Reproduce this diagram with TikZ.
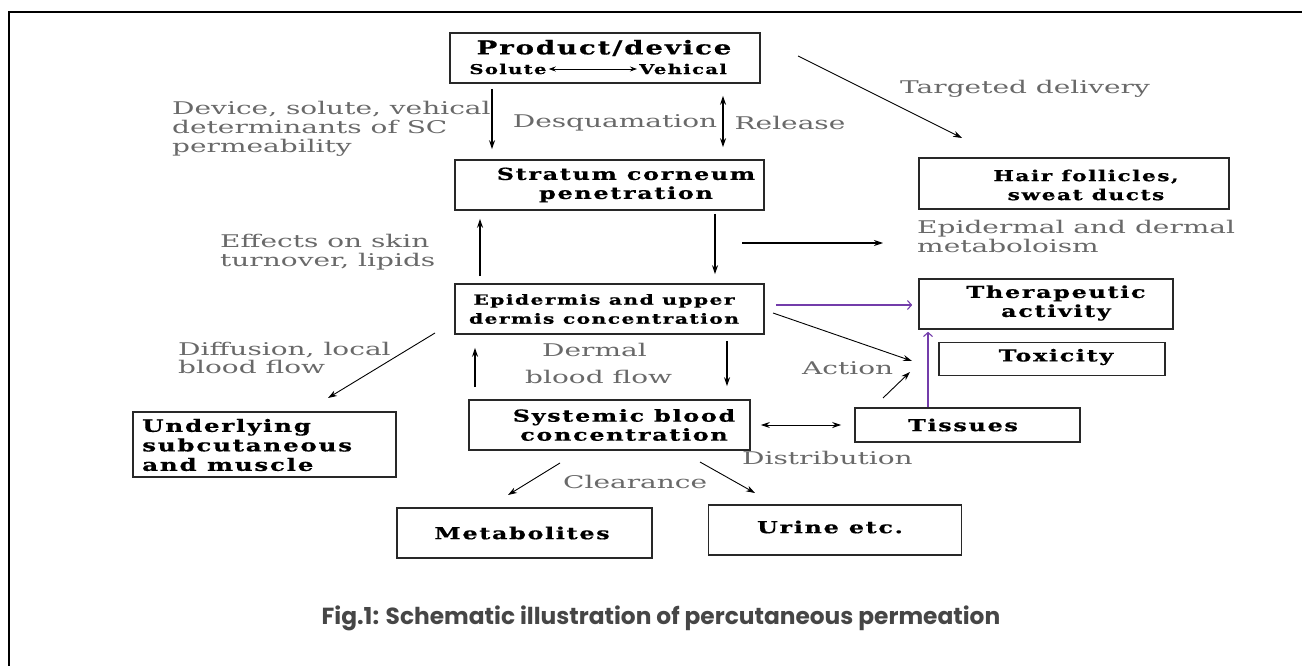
\documentclass[tikz,border=0pt]{standalone}
\usepackage{fontspec}
\usetikzlibrary{arrows.meta}
\setmainfont{DejaVu Serif}
\newfontfamily\labfont[FakeStretch=1.6]{DejaVu Serif}
\newfontfamily\boxfont[FakeStretch=1.45,LetterSpace=10,FakeBold=0.6]{DejaVu Serif Bold}
\newfontfamily\capfont{Poppins}
\definecolor{labgray}{RGB}{105,105,105}
\definecolor{boxline}{RGB}{40,40,40}
\definecolor{pur}{RGB}{115,60,170}
\definecolor{capgray}{RGB}{70,70,70}
\tikzset{
  box/.style={draw=boxline, line width=1.6pt, inner sep=0pt},
  bt/.style={font=\boxfont\fontsize{16.5}{19}\selectfont, align=center, inner sep=0pt},
  btl/.style={font=\boxfont\fontsize{17}{19.5}\selectfont, align=left, inner sep=0pt},
  lab/.style={font=\labfont\fontsize{17.5}{18.8}\selectfont, text=labgray, align=left, inner sep=0pt},
  arr/.style={-{Stealth[length=9pt,width=6pt]}, line width=1.1pt},
  darr/.style={{Stealth[length=9pt,width=6pt]}-{Stealth[length=9pt,width=6pt]}, line width=1.1pt},
  parr/.style={-{Straight Barb[length=4pt,width=9pt]}, draw=pur, line width=1.1pt},
}
\begin{document}
\begin{tikzpicture}[x=1pt,y=-1pt]
\useasboundingbox (0,0) rectangle (1302,666);
% frame
\draw[line width=2.4pt] (9,666) -- (9,12) -- (1302,12);

% boxes
\node[box, minimum width=310pt, minimum height=50pt] (pd) at (605,58) {};
\node[box, minimum width=309pt, minimum height=50pt] (sc) at (609.5,185) {};
\node[box, minimum width=310pt, minimum height=51pt] (hf) at (1074,183.5) {};
\node[box, minimum width=309pt, minimum height=50pt] (ep) at (609.5,309) {};
\node[box, minimum width=254pt, minimum height=50pt] (ta) at (1046,304) {};
\node[box, minimum width=226pt, minimum height=33pt] (tox) at (1052,359) {};
\node[box, minimum width=263pt, minimum height=65pt] (ul) at (264.5,444.5) {};
\node[box, minimum width=281pt, minimum height=50pt] (sb) at (609.5,425) {};
\node[box, minimum width=225pt, minimum height=34pt] (ti) at (967.5,425) {};
\node[box, minimum width=255pt, minimum height=50pt] (me) at (524.5,533) {};
\node[box, minimum width=253pt, minimum height=50pt] (ur) at (835,530) {};

% box texts
\node[bt, font=\boxfont\fontsize{19}{22}\selectfont] (pdt) at (604,48) {Product/device};
\node[bt, font=\boxfont\fontsize{13.5}{14}\selectfont] (sol) at (508,69) {Solute};
\node[bt, font=\boxfont\fontsize{13.5}{14}\selectfont] (veh) at (683,69) {Vehical};
\draw[{Stealth[length=7pt,width=5pt]}-{Stealth[length=7pt,width=5pt]}, line width=0.8pt, shorten <=2pt, shorten >=2pt] (sol) -- (veh);
\node[bt] (sct) at (626,185) {Stratum corneum\\penetration};
\node[bt, font=\boxfont\fontsize{15}{19}\selectfont] (hft) at (1086,185) {Hair follicles,\\sweat ducts};
\node[bt, font=\boxfont\fontsize{14}{19}\selectfont] (ept) at (604,309) {Epidermis and upper\\dermis concentration};
\node[bt] (tat) at (1056,303) {Therapeutic\\activity};
\node[bt] (toxt) at (1056,357) {Toxicity};
\node[btl, anchor=west] (ult) at (142,445) {Underlying\\subcutaneous\\and muscle};
\node[bt] (sbt) at (624,425) {Systemic blood\\concentration};
\node[bt] (tit) at (963,425) {Tissues};
\node[bt] (met) at (522,533) {Metabolites};
\node[bt] (urt) at (830,527) {Urine etc.};

% labels
\node[lab, anchor=west] (l1) at (172,128.5) {Device, solute, vehical\\determinants of SC\\permeability};
\node[lab] (l2) at (615,123) {Desquamation};
\node[lab] (l3) at (790,123) {Release};
\node[lab, anchor=west] (l4) at (900,89) {Targeted delivery};
\node[lab, anchor=west] (l5) at (220,252) {Effects on skin\\turnover, lipids};
\node[lab, anchor=west] (l6) at (917,236.5) {Epidermal and dermal\\metaboloism};
\node[lab, anchor=west] (l7) at (178,358) {Diffusion, local\\blood flow};
\node[lab, anchor=west] (l8) at (542,350) {Dermal};
\node[lab, anchor=west] (l9) at (525,377) {blood flow};
\node[lab, anchor=west] (l10) at (802,368) {Action};
\node[lab, anchor=west] (l11) at (742,458) {Distribution};
\node[lab, anchor=west] (l12) at (563,482) {Clearance};

% caption
\node[font=\capfont\bfseries\fontsize{23.3}{28}\selectfont, text=capgray, inner sep=0pt] (cap) at (661,618) {Fig.1: Schematic illustration of percutaneous permeation};

% connectors
\coordinate (x1) at (492,0);
\coordinate (x2) at (723,0);
\coordinate (x3) at (480,0);
\coordinate (x4) at (715,0);
\coordinate (x5) at (727,0);
\coordinate (x6) at (475,0);
\coordinate (x7) at (928,0);
\coordinate (y1) at (0,305);
\coordinate (y2) at (0,425);
\coordinate (tg1) at (798,56);
\coordinate (tg2) at (962,138);
\coordinate (m1) at (742,243);
\coordinate (m2) at (883,243);
\coordinate (e1) at (773,313);
\coordinate (e2) at (912,361);
\coordinate (t1) at (883,398);
\coordinate (t2) at (910,372);
\coordinate (d1) at (435,333);
\coordinate (d2) at (328,398);
\coordinate (c1) at (560,463);
\coordinate (c2) at (508,495);
\coordinate (c3) at (700,462);
\coordinate (c4) at (755,493);

\draw[arr, shorten <=5pt, shorten >=10pt] (pd.south -| x1) -- (sc.north -| x1);
\draw[darr, shorten <=12pt, shorten >=12pt] (pd.south -| x2) -- (sc.north -| x2);
\draw[arr, line width=0.9pt] (tg1) -- (tg2);
\draw[arr, shorten <=7pt, shorten >=8pt] (ep.north -| x3) -- (sc.south -| x3);
\draw[arr, shorten <=3pt, shorten >=9pt] (sc.south -| x4) -- (ep.north -| x4);
\draw[arr] (m1) -- (m2);
\draw[parr, shorten <=11pt, shorten >=6pt] (ep.east |- y1) -- (ta.west |- y1);
\draw[arr, line width=0.9pt] (e1) -- (e2);
\draw[arr, line width=0.9pt] (t1) -- (t2);
\draw[parr, shorten >=2pt] (ti.north -| x7) -- (ta.south -| x7);
\draw[arr, shorten <=6pt, shorten >=13pt] (ep.south -| x5) -- (sb.north -| x5);
\draw[arr, shorten <=12pt, shorten >=13pt] (sb.north -| x6) -- (ep.south -| x6);
\draw[arr, line width=0.9pt] (d1) -- (d2);
\draw[darr, line width=0.9pt, shorten <=10pt, shorten >=13pt] (sb.east |- y2) -- (ti.west |- y2);
\draw[arr, line width=0.9pt] (c1) -- (c2);
\draw[arr, line width=0.9pt] (c3) -- (c4);
\end{tikzpicture}
\end{document}
